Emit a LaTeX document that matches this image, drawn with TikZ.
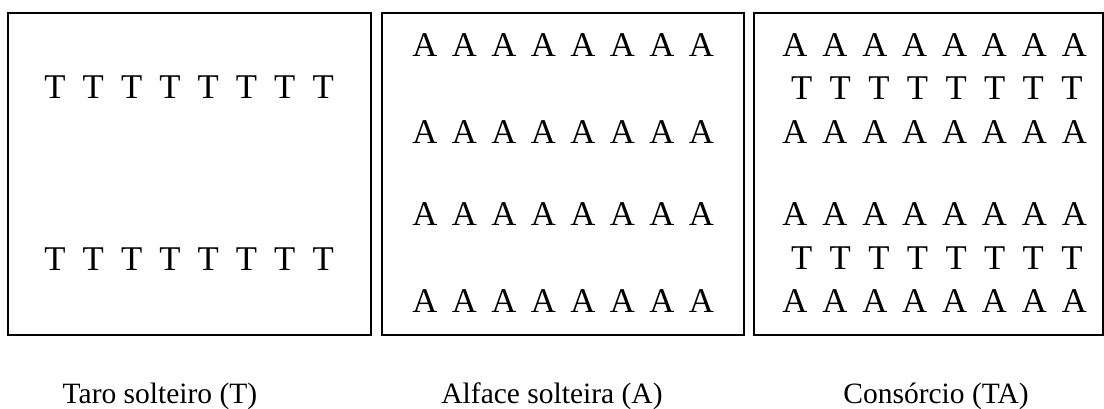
\documentclass[tikz,border=0pt]{standalone}
\usepackage{fontspec}
\setmainfont{Liberation Serif}
\begin{document}
\begin{tikzpicture}[x=1pt,y=-1pt,
  plot/.style={draw=black,line width=2pt},
  letter/.style={inner sep=0pt,anchor=base,font=\fontsize{34.7}{40}\selectfont},
  caption/.style={inner sep=0pt,anchor=base,font=\fontsize{29.5}{34}\selectfont}]
\useasboundingbox (0,0) rectangle (1104,408);
% boxes
\draw[plot] (8,13) rectangle (370.7,335);
\draw[plot] (381.7,13) rectangle (743.7,335);
\draw[plot] (754.3,13) rectangle (1102.5,335);
% box 1: taro
\foreach \r/\yy in {1/98,2/270}{
  \foreach \k in {0,...,7}{
    \node[letter] (t\r-\k) at ({55+38.3*\k},\yy) {T};
  }
}
% box 2: lettuce
\foreach \r/\yy in {1/56.5,2/143.5,3/225.5,4/312.5}{
  \foreach \k in {0,...,7}{
    \node[letter] (a\r-\k) at ({425+39.5*\k},\yy) {A};
  }
}
% box 3: intercrop
\foreach \r/\yy in {1/56.5,3/143.5,4/225.5,6/312.5}{
  \foreach \k in {0,...,7}{
    \node[letter] (c\r-\k) at ({795+39.9*\k},\yy) {A};
  }
}
\foreach \r/\yy in {2/99.5,5/269.5}{
  \foreach \k in {0,...,7}{
    \node[letter] (c\r-\k) at ({801.7+38.6*\k},\yy) {T};
  }
}
% captions
\node[caption] (cap1) at (160,403) {Taro solteiro (T)};
\node[caption] (cap2) at (552,403) {Alface solteira (A)};
\node[caption] (cap3) at (936,403) {Consórcio (TA)};
\end{tikzpicture}
\end{document}
